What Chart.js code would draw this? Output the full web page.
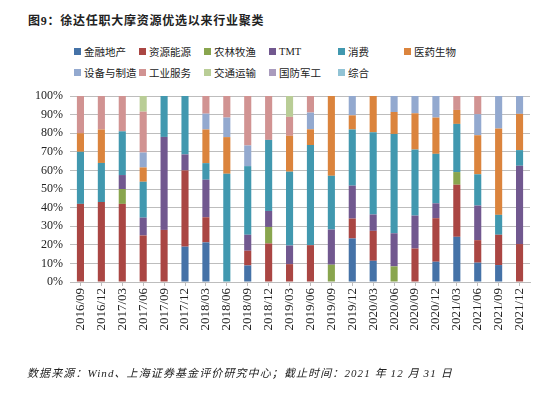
<!DOCTYPE html>
<html>
<head>
<meta charset="utf-8">
<script src="https://cdn.jsdelivr.net/npm/chart.js@4/dist/chart.umd.min.js"></script>
<style>
  html, body { margin: 0; padding: 0; background: #fff; }
  #wrap { position: relative; width: 550px; height: 394px; overflow: hidden; }
  #c { position: absolute; left: 0; top: 0; }
  #title { position: absolute; left: 28px; top: 11px; font: bold 12px "Liberation Serif", "Noto Sans CJK SC"; color: #222; letter-spacing: 0.75px; }
  #legend { position: absolute; left: 74px; top: 41px; display: grid;
    grid-template-columns: 65px 65px 65px 69px 66px 66px; grid-auto-rows: 21px; }
  .item { display: flex; align-items: center; font: 10.5px "Liberation Serif", "Noto Sans CJK SC"; color: #222; white-space: nowrap; }
  .sw { width: 7px; height: 7px; margin-right: 3px; flex: none; }
  #src { position: absolute; left: 27px; top: 364px; font: italic 11px "Liberation Serif", "Noto Sans CJK SC"; color: #222; letter-spacing: 1.1px; }
</style>
</head>
<body>
<div id="wrap">
  <div id="title">图9：徐达任职大摩资源优选以来行业聚类</div>
  <div id="legend"></div>
  <canvas id="c" width="550" height="394"></canvas>
  <div id="src">数据来源：Wind、上海证券基金评价研究中心；截止时间：2021 年 12 月 31 日</div>
</div>
<script>
const periods = ['2016/09','2016/12','2017/03','2017/06','2017/09','2017/12','2018/03','2018/06','2018/09','2018/12','2019/03',
                 '2019/06','2019/09','2019/12','2020/03','2020/06','2020/09','2020/12','2021/03','2021/06','2021/09','2021/12'];
const yTicks = [0, 10, 20, 30, 40, 50, 60, 70, 80, 90, 100];

// share of each industry group, % per quarter
const finance   = [0,0,0,0,0,19,21.3,0,8.9,0,0,0,0,23.4,11.4,0,0,10.9,24.3,10.4,9.1,0];
const resources = [42,43,42,25,28,41,13.5,0,7.9,20.7,9.6,19.8,0,10.7,16.1,0,18,23.4,28,12.1,16.3,20.4];
const agri      = [0,0,8,0,0,0,0,0,0,8.9,0,0,9.3,0,0,8.4,0,0,6.8,0,0,0];
const tmt       = [0,0,7.5,9.6,50,8.6,20.2,0,8.6,8.6,10,0,18.9,17.7,8.8,17.8,17.7,8,0,18.6,0,42.1];
const consumer  = [28,21,23.5,19.3,22,31.4,8.9,58.2,36.9,38.2,39.7,53.8,28.9,30.2,44.2,53.4,35.5,26.6,25.9,16.8,10.7,8.4];
const pharma    = [10,18,0,7.7,0,0,18.1,19.7,0,0,19.3,8.5,42.9,7.6,19.5,11.8,19.5,19.5,7.5,21,46.4,19.5];
const equipment = [0,0,0,8,0,0,8.5,10.5,11.1,0,0,9,0,10.4,0,8.6,9.3,11.6,0,11.3,17.5,9.6];
const services  = [20,18,19,22,0,0,9.5,11.6,26.6,23.6,10.2,8.9,0,0,0,0,0,0,7.5,9.8,0,0];
const transport = [0,0,0,8.4,0,0,0,0,0,0,11.2,0,0,0,0,0,0,0,0,0,0,0];
const defense   = [0,0,0,0,0,0,0,0,0,0,0,0,0,0,0,0,0,0,0,0,0,0];
const misc      = [0,0,0,0,0,0,0,0,0,0,0,0,0,0,0,0,0,0,0,0,0,0];

const names = ['金融地产','资源能源','农林牧渔','TMT','消费','医药生物','设备与制造','工业服务','交通运输','国防军工','综合'];
const series = [finance, resources, agri, tmt, consumer, pharma, equipment, services, transport, defense, misc];
const colors = ['#4572A7','#AA4643','#89A54E','#71588F','#4198AF','#DB843D','#93A9CF','#D19392','#B9CD96','#A99BBD','#91C3D5'];

// legend as html, laid out in the same grid as the source
const lg = document.getElementById('legend');
names.forEach((n, i) => {
  const d = document.createElement('div');
  d.className = 'item';
  d.innerHTML = '<span class="sw" style="background:' + colors[i] + '"></span>' + n;
  lg.appendChild(d);
});

const grid = '#bdbdbd';
new Chart(document.getElementById('c'), {
  type: 'bar',
  data: {
    labels: periods,
    datasets: series.map((s, i) => ({
      label: names[i], data: s, backgroundColor: colors[i],
      barPercentage: 0.34, categoryPercentage: 1
    }))
  },
  options: {
    responsive: false,
    animation: false,
    layout: { padding: { top: 96, right: 20, bottom: 0, left: 0 } },
    plugins: { legend: { display: false }, title: { display: false }, tooltip: { enabled: false } },
    scales: {
      x: {
        stacked: true,
        afterFit: s => { s.height = 112; },
        grid: { display: true, drawOnChartArea: false, color: grid, tickLength: 4, offset: false },
        border: { color: grid },
        ticks: { minRotation: 90, maxRotation: 90, autoSkip: false, padding: 2, color: '#222',
                 font: { family: 'Liberation Serif', size: 13 } }
      },
      y: {
        stacked: true, min: 0, max: 100,
        afterFit: s => { s.width = 70; },
        afterBuildTicks: s => { s.ticks = yTicks.map(v => ({ value: v })); },
        grid: { color: grid, drawTicks: false },
        border: { display: false },
        ticks: { padding: 7, color: '#222', callback: v => v + '%',
                 font: { family: 'Liberation Serif', size: 12 } }
      }
    }
  }
});
</script>
</body>
</html>
